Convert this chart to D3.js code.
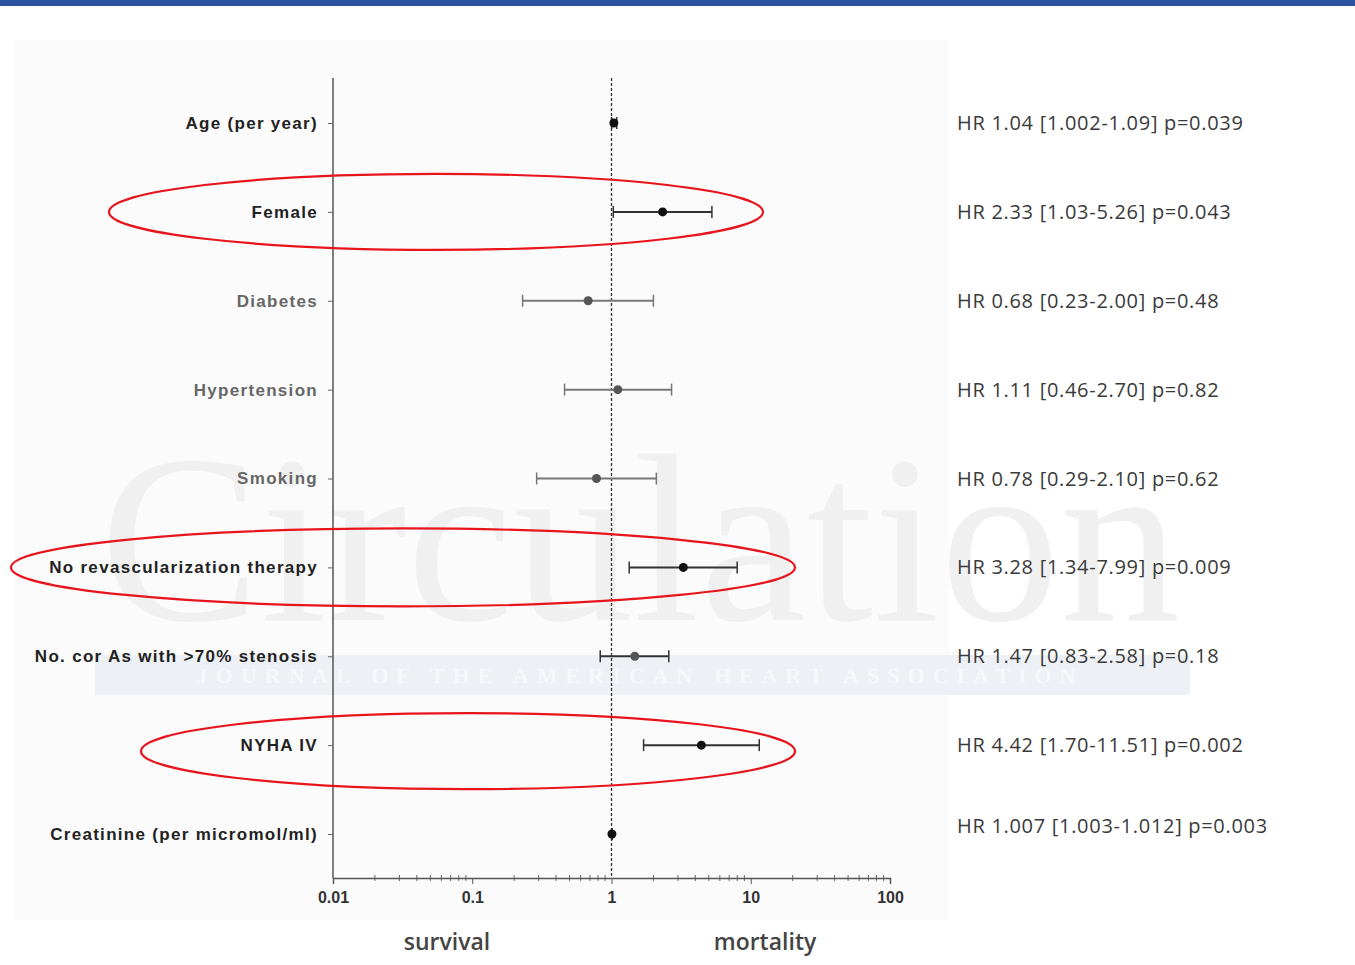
<!DOCTYPE html>
<html>
<head>
<meta charset="utf-8">
<script src="https://cdn.jsdelivr.net/npm/d3@7"></script>
<style>
  body { margin: 0; background: #fff; }
  svg { display: block; }
</style>
</head>
<body>
<div id="chart"></div>
<script>
const labels = ["Age (per year)", "Female", "Diabetes", "Hypertension", "Smoking",
  "No revascularization therapy", "No. cor As with >70% stenosis", "NYHA IV",
  "Creatinine (per micromol/ml)"];
const hr = [1.04, 2.33, 0.68, 1.11, 0.78, 3.28, 1.47, 4.42, 1.007];
const lo = [1.002, 1.03, 0.23, 0.46, 0.29, 1.34, 0.83, 1.70, 1.003];
const hi = [1.09, 5.26, 2.00, 2.70, 2.10, 7.99, 2.58, 11.51, 1.012];
const pvals = [0.039, 0.043, 0.48, 0.82, 0.62, 0.009, 0.18, 0.002, 0.003];
const hrText = ["HR 1.04 [1.002-1.09] p=0.039", "HR 2.33 [1.03-5.26] p=0.043",
  "HR 0.68 [0.23-2.00] p=0.48", "HR 1.11 [0.46-2.70] p=0.82", "HR 0.78 [0.29-2.10] p=0.62",
  "HR 3.28 [1.34-7.99] p=0.009", "HR 1.47 [0.83-2.58] p=0.18", "HR 4.42 [1.70-11.51] p=0.002",
  "HR 1.007 [1.003-1.012] p=0.003"];
const xTicks = [0.01, 0.1, 1, 10, 100];
const highlighted = ["Female", "No revascularization therapy", "NYHA IV"];

const width = 1355, height = 965;
const svg = d3.select("#chart").append("svg").attr("width", width).attr("height", height);

// slide header bar and faint panel
svg.append("rect").attr("x", 0).attr("y", 0).attr("width", width).attr("height", 6).attr("fill", "#2c52a0");
svg.append("rect").attr("x", 14).attr("y", 40).attr("width", 935).attr("height", 880).attr("fill", "#fbfbfb");

// journal watermark
svg.append("rect").attr("x", 95).attr("y", 655).attr("width", 1095).attr("height", 40).attr("fill", "#edf0f4");
svg.append("text").attr("x", 640).attr("y", 683).attr("text-anchor", "middle")
  .attr("font-family", "Liberation Serif, serif").attr("font-weight", "bold").attr("font-size", 22)
  .attr("letter-spacing", 8).attr("fill", "#f7f8fa").text("JOURNAL OF THE AMERICAN HEART ASSOCIATION");
svg.append("text").attr("x", 640).attr("y", 620).attr("text-anchor", "middle")
  .attr("font-family", "Liberation Serif, serif").attr("font-size", 240).attr("fill", "#f0f0f0")
  .text("Circulation");

const plotLeft = 333, plotRight = 890, plotTop = 78, plotBottom = 878;
const x = d3.scaleLog().domain([0.01, 100]).range([plotLeft, plotRight]);
const y = d3.scalePoint().domain(labels).range([123, 834]);

// minor log ticks
const minor = d3.range(-2, 2).flatMap(e => d3.range(2, 10).map(m => m * Math.pow(10, e)));
svg.append("g").selectAll("line").data(minor).join("line")
  .attr("x1", d => x(d)).attr("x2", d => x(d))
  .attr("y1", plotBottom - 3).attr("y2", plotBottom + 3)
  .attr("stroke", "#666").attr("stroke-width", 1);

const xAxis = svg.append("g").attr("transform", `translate(0,${plotBottom})`)
  .call(d3.axisBottom(x).tickValues(xTicks).tickSize(6).tickFormat(d => String(d)));
xAxis.select(".domain").attr("stroke", "#555").attr("stroke-width", 1.5);
xAxis.selectAll(".tick line").attr("stroke", "#555");
xAxis.selectAll(".tick text").attr("font-family", "Liberation Sans, Arial, sans-serif")
  .attr("font-weight", "bold").attr("font-size", 16).attr("fill", "#333").attr("dy", "1em");

const yAxis = svg.append("g").attr("transform", `translate(${plotLeft},0)`)
  .call(d3.axisLeft(y).tickSize(5).tickPadding(10));
yAxis.select(".domain").attr("d", `M0,${plotTop}V${plotBottom}`).attr("stroke", "#555").attr("stroke-width", 1.5);
yAxis.selectAll(".tick line").attr("stroke", "#666");
yAxis.selectAll(".tick text").attr("font-family", "Liberation Sans, Arial, sans-serif")
  .attr("font-weight", "bold").attr("font-size", 17).attr("letter-spacing", 1.3)
  .attr("fill", (d, i) => pvals[i] < 0.05 || i === 6 ? "#222" : "#666");

// reference line at HR = 1
svg.append("line").attr("x1", x(1)).attr("x2", x(1)).attr("y1", plotTop).attr("y2", plotBottom)
  .attr("stroke", "#333").attr("stroke-width", 1.3).attr("stroke-dasharray", "3,2");

// confidence intervals and point estimates
const rows = svg.append("g").selectAll("g").data(labels).join("g")
  .attr("transform", d => `translate(0,${y(d)})`);
const tone = i => pvals[i] < 0.05 || i === 6 ? "#333" : "#777";
rows.append("line").attr("x1", (d, i) => x(lo[i])).attr("x2", (d, i) => x(hi[i]))
  .attr("stroke", (d, i) => tone(i)).attr("stroke-width", 2);
rows.append("line").attr("x1", (d, i) => x(lo[i])).attr("x2", (d, i) => x(lo[i]))
  .attr("y1", -6).attr("y2", 6).attr("stroke", (d, i) => tone(i)).attr("stroke-width", 1.5);
rows.append("line").attr("x1", (d, i) => x(hi[i])).attr("x2", (d, i) => x(hi[i]))
  .attr("y1", -6).attr("y2", 6).attr("stroke", (d, i) => tone(i)).attr("stroke-width", 1.5);
rows.append("circle").attr("cx", (d, i) => x(hr[i])).attr("r", 4.5)
  .attr("fill", (d, i) => pvals[i] < 0.05 ? "#111" : "#555");

// HR text on the right
svg.append("g").selectAll("text").data(labels).join("text")
  .attr("x", 957).attr("y", (d, i) => y(d) + (i === 8 ? -1 : 7))
  .attr("font-family", "Open Sans, sans-serif").attr("font-size", 20).attr("fill", "#3a3a3a")
  .attr("letter-spacing", 0.7)
  .text((d, i) => hrText[i]);

// direction labels
svg.append("text").attr("x", 447).attr("y", 950).attr("text-anchor", "middle")
  .attr("font-family", "Open Sans, sans-serif").attr("font-weight", 600).attr("font-size", 23)
  .attr("fill", "#444").text("survival");
svg.append("text").attr("x", 765).attr("y", 950).attr("text-anchor", "middle")
  .attr("font-family", "Open Sans, sans-serif").attr("font-weight", 600).attr("font-size", 23)
  .attr("fill", "#444").text("mortality");

// red highlight ellipses
const ellipseShape = { "Female": [436, 327, 38], "No revascularization therapy": [403, 392, 39], "NYHA IV": [468, 327, 38] };
svg.append("g").selectAll("ellipse").data(highlighted).join("ellipse")
  .attr("cx", d => ellipseShape[d][0]).attr("cy", d => y(d) + (d === "NYHA IV" ? 6 : 0))
  .attr("rx", d => ellipseShape[d][1]).attr("ry", d => ellipseShape[d][2])
  .attr("fill", "none").attr("stroke", "#e8141c").attr("stroke-width", 2.2);
</script>
</body>
</html>
